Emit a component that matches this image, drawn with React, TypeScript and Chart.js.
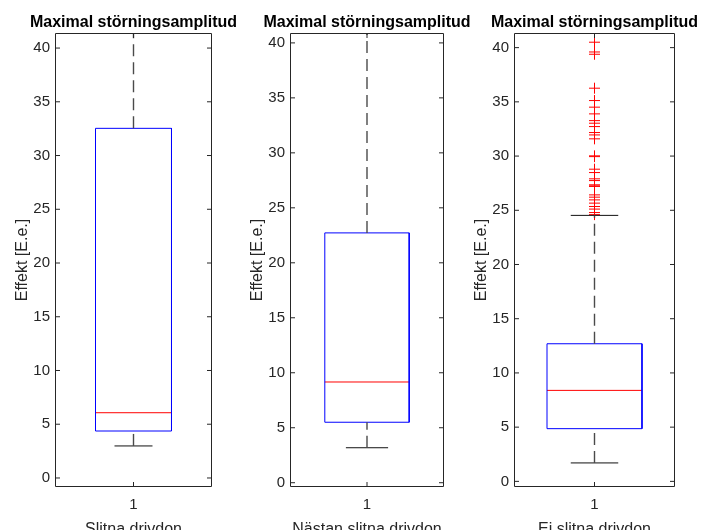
import React, { useEffect, useRef } from "react";
import { Chart, registerables } from "chart.js";

Chart.register(...registerables);

// ---------- data ----------
const TITLE = "Maximal störningsamplitud";
const Y_LABEL = "Effekt [E.e.]";
const GROUP_NAMES = ["Slitna drivdon", "Nästan slitna drivdon", "Ei slitna drivdon"];
const X_TICKS = [1];
const X_TICK_LABELS = ["1"];
const Y_TICKS = [0, 5, 10, 15, 20, 25, 30, 35, 40];

const LOWER_WHISKER = [2.98, 3.18, 1.7];
const Q1 = [4.37, 5.5, 4.86];
const MEDIAN = [6.07, 9.16, 8.39];
const Q3 = [32.53, 22.72, 12.69];
const UPPER_WHISKER = [48, 48, 24.53];

const OUTLIERS_1: number[] = [];
const OUTLIERS_2: number[] = [];
const OUTLIERS_3 = [
  40.5, 39.6, 39.39, 36.26, 35.12, 34.51, 33.89, 33.27, 33.03, 32.72, 32.17,
  31.95, 31.59, 30.02, 29.95, 28.79, 28.48, 27.9, 27.74, 27.35, 27.25, 27.2,
  26.42, 26.21, 25.96, 25.66, 25.35, 25.11, 24.79, 24.6,
];
const OUTLIERS = [OUTLIERS_1, OUTLIERS_2, OUTLIERS_3];

// ---------- layout / style ----------
const CANVAS_W = 704;
const CANVAS_H = 545;
const AREA_TOP = 33;
const AREA_BOTTOM = 487;
const Y_AXIS_W = 45;
const FONT = "'Liberation Sans', Arial, Helvetica, sans-serif";
const AXIS_COLOR = "#262626";
const TICK_LEN = 4.5;

type PanelCfg = { left: number; right: number; yMin: number; yMax: number; halfWidth: number };
const PANELS: PanelCfg[] = [
  { left: 55, right: 212, yMin: -0.84, yMax: 41.4, halfWidth: 0.242 },
  { left: 290, right: 444, yMin: -0.39, yMax: 40.9, halfWidth: 0.274 },
  { left: 514, right: 675, yMin: -0.52, yMax: 41.35, halfWidth: 0.295 },
];

Chart.defaults.font.family = FONT;

const framePlugin = {
  id: "matlabFrame",
  afterDraw(chart: any) {
    const { ctx, chartArea } = chart;
    const { left, right, top, bottom } = chartArea;
    const xs = chart.scales.x;
    const ys = chart.scales.y;
    ctx.save();
    ctx.strokeStyle = AXIS_COLOR;
    ctx.lineWidth = 1;
    const l = Math.round(left) + 0.5;
    const r = Math.round(right) - 0.5;
    const t = Math.round(top) + 0.5;
    const b = Math.round(bottom) - 0.5;
    ctx.beginPath();
    ctx.rect(l, t, r - l, b - t);
    for (const v of Y_TICKS) {
      const py = ys.getPixelForValue(v);
      ctx.moveTo(l, py);
      ctx.lineTo(l + TICK_LEN, py);
      ctx.moveTo(r, py);
      ctx.lineTo(r - TICK_LEN, py);
    }
    for (const v of X_TICKS) {
      const px = xs.getPixelForValue(v);
      ctx.moveTo(px, b);
      ctx.lineTo(px, b - TICK_LEN);
      ctx.moveTo(px, t);
      ctx.lineTo(px, t + TICK_LEN);
    }
    ctx.stroke();
    // title
    ctx.fillStyle = "#000";
    ctx.font = `bold 16px ${FONT}`;
    ctx.textAlign = "center";
    ctx.textBaseline = "alphabetic";
    ctx.fillText(TITLE, (left + right) / 2, top - 6.5);
    ctx.restore();
  },
};

function Panel({ idx }: { idx: number }) {
  const ref = useRef<HTMLCanvasElement | null>(null);
  useEffect(() => {
    if (!ref.current) return;
    const cfg = PANELS[idx];
    const hw = cfg.halfWidth;
    const cw = hw / 2;
    const lo = LOWER_WHISKER[idx];
    const q1 = Q1[idx];
    const med = MEDIAN[idx];
    const q3 = Q3[idx];
    const hi = UPPER_WHISKER[idx];
    const lineDs = (data: any[], color: string, extra: any = {}) => ({
      data,
      showLine: true,
      borderColor: color,
      borderWidth: 1,
      pointRadius: 0,
      fill: false,
      tension: 0,
      ...extra,
    });
    const chart = new Chart(ref.current, {
      type: "scatter",
      data: {
        datasets: [
          lineDs(
            [
              { x: 1, y: q3 },
              { x: 1, y: hi },
            ],
            "#4a4a4a",
            { borderDash: [12, 6], borderWidth: 1.4 }
          ),
          lineDs(
            [
              { x: 1, y: lo },
              { x: 1, y: q1 },
            ],
            "#4a4a4a",
            { borderDash: [12, 6], borderWidth: 1.4 }
          ),
          lineDs(
            [
              { x: 1 - cw, y: hi },
              { x: 1 + cw, y: hi },
            ],
            "#111"
          ),
          lineDs(
            [
              { x: 1 - cw, y: lo },
              { x: 1 + cw, y: lo },
            ],
            "#111"
          ),
          lineDs(
            [
              { x: 1 - hw, y: q1 },
              { x: 1 - hw, y: q3 },
              { x: 1 + hw, y: q3 },
              { x: 1 + hw, y: q1 },
              { x: 1 - hw, y: q1 },
            ],
            "#0000ff",
            { borderJoinStyle: "miter" }
          ),
          lineDs(
            [
              { x: 1 - hw, y: med },
              { x: 1 + hw, y: med },
            ],
            "#ff0000"
          ),
          {
            data: OUTLIERS[idx].map((v) => ({ x: 1, y: v })),
            showLine: false,
            pointStyle: "cross",
            pointRadius: 5.5,
            pointBorderColor: "#ff0000",
            pointBorderWidth: 1,
            borderColor: "#ff0000",
          },
        ],
      },
      options: {
        animation: false,
        responsive: false,
        events: [],
        layout: {
          padding: {
            left: cfg.left - Y_AXIS_W,
            right: CANVAS_W - cfg.right,
            top: AREA_TOP,
            bottom: 0,
          },
        },
        plugins: {
          legend: { display: false },
          tooltip: { enabled: false },
          title: { display: false },
        },
        scales: {
          x: {
            type: "linear",
            min: 0.5,
            max: 1.5,
            afterBuildTicks: (s: any) => {
              s.ticks = X_TICKS.map((v) => ({ value: v }));
            },
            afterFit: (s: any) => {
              s.height = CANVAS_H - AREA_BOTTOM;
            },
            grid: { display: false, drawTicks: false },
            border: { display: false },
            ticks: {
              padding: 8.5,
              autoSkip: false,
              maxRotation: 0,
              color: AXIS_COLOR,
              font: { size: 15 },
              callback: (_v: any, i: number) => X_TICK_LABELS[i],
            },
            title: {
              display: true,
              text: GROUP_NAMES[idx],
              color: AXIS_COLOR,
              font: { size: 16 },
              padding: { top: 0, bottom: 6.2 },
            },
          },
          y: {
            type: "linear",
            min: cfg.yMin,
            max: cfg.yMax,
            afterBuildTicks: (s: any) => {
              s.ticks = Y_TICKS.map((v) => ({ value: v }));
            },
            afterFit: (s: any) => {
              s.width = Y_AXIS_W;
            },
            grid: { display: false, drawTicks: false },
            border: { display: false },
            ticks: {
              padding: 5,
              autoSkip: false,
              color: AXIS_COLOR,
              font: { size: 15 },
            },
            title: {
              display: true,
              text: Y_LABEL,
              color: AXIS_COLOR,
              font: { size: 16 },
              padding: { top: 3, bottom: 0 },
            },
          },
        },
      } as any,
      plugins: [framePlugin],
    });
    return () => chart.destroy();
  }, [idx]);
  return (
    <canvas
      ref={ref}
      width={CANVAS_W}
      height={CANVAS_H}
      style={{ position: "absolute", left: 0, top: 0, width: CANVAS_W, height: CANVAS_H, display: "block" }}
    />
  );
}

export default function App() {
  return (
    <div
      style={{
        position: "fixed",
        left: 0,
        top: 0,
        width: CANVAS_W,
        height: 530,
        overflow: "hidden",
        background: "#ffffff",
      }}
    >
      {PANELS.map((_, i) => (
        <Panel key={i} idx={i} />
      ))}
    </div>
  );
}
